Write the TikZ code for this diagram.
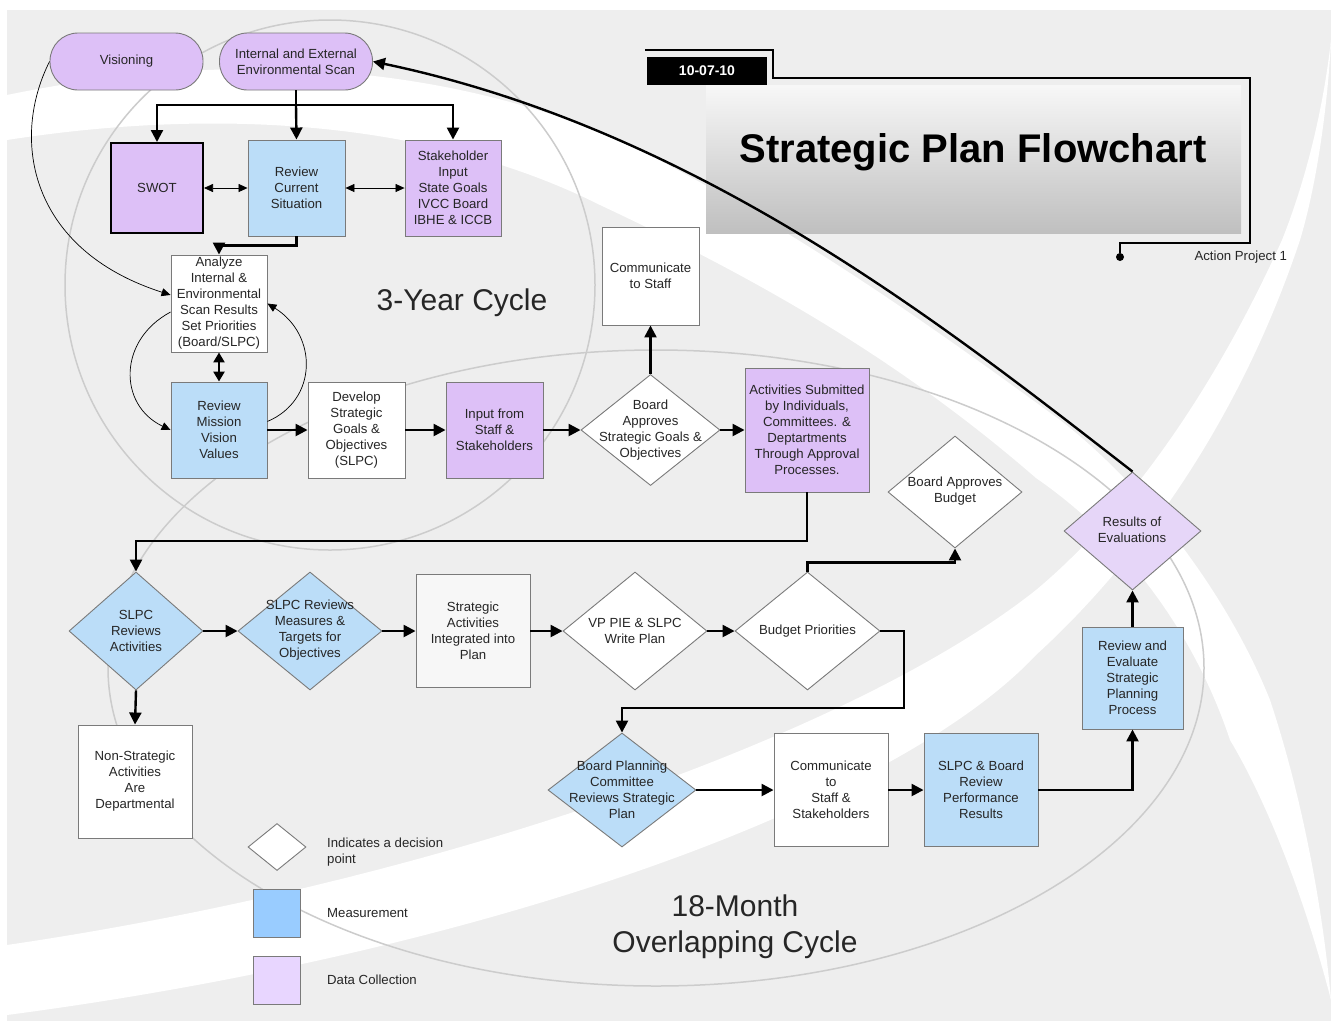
\documentclass[tikz,border=0pt]{standalone}
\usepackage{fontspec}
\setmainfont{Liberation Sans}
\usetikzlibrary{shapes.geometric,arrows.meta}
\definecolor{bg}{HTML}{EEEEEE}
\definecolor{purp}{HTML}{DDC0F7}
\definecolor{purpL}{HTML}{E6D6F8}
\definecolor{blu}{HTML}{BBDDF8}
\definecolor{bluS}{HTML}{99CCFF}
\definecolor{legp}{HTML}{E8D6FF}
\definecolor{edge}{HTML}{7A7A7A}
\definecolor{ink}{HTML}{262626}
\definecolor{arcg}{HTML}{CCCCCC}
\newcommand{\myfnt}{\fontsize{13.2}{16}\selectfont}
\begin{document}
\begin{tikzpicture}[x=1pt,y=-1pt,
 every node/.style={text=ink},
 box/.style={rectangle, draw=edge, line width=0.9pt, inner sep=0pt, align=center, font=\myfnt},
 dia/.style={diamond, draw=edge, line width=0.9pt, inner sep=0pt},
 lbl/.style={align=center, font=\myfnt, inner sep=0pt},
 pill/.style={rectangle, rounded corners=28pt, draw=edge, line width=0.9pt, fill=purp, minimum width=153pt, minimum height=57pt, align=center, font=\myfnt, inner sep=0pt},
 flow/.style={draw=black, line width=2.4pt, -{Triangle[length=12pt,width=12pt]}},
 flowtwo/.style={draw=black, line width=2.4pt, {Triangle[length=10pt,width=11pt]}-{Triangle[length=10pt,width=11pt]}},
 thinar/.style={draw=black, line width=0.7pt, -{Triangle[length=9pt,width=8pt]}},
 thintwo/.style={draw=black, line width=0.7pt, {Triangle[length=9pt,width=8pt]}-{Triangle[length=9pt,width=8pt]}},
]
\useasboundingbox (0,0) rectangle (1336,1026);
% ---------- background ----------
\fill[white] (0,0) rectangle (1336,1026);
\fill[bg] (7,10) rectangle (1331,1021);
% band from top left, along the long return arrow, to bottom right
\fill[white] (7,95) .. controls (200,55) and (420,55) .. (620,140)
  .. controls (800,230) and (950,340) .. (1060,420)
  .. controls (1150,490) and (1230,600) .. (1270,700)
  .. controls (1300,790) and (1322,900) .. (1331,1000)
  .. controls (1300,880) and (1260,790) .. (1230,740)
  .. controls (1200,650) and (1140,550) .. (1036,478)
  .. controls (900,360) and (760,280) .. (600,205)
  .. controls (420,115) and (200,110) .. (7,140) -- cycle;
% band from bottom left to upper right
\fill[white] (7,1015) .. controls (500,950) and (900,800) .. (1036,655)
  .. controls (1140,560) and (1240,420) .. (1300,240)
  .. controls (1318,180) and (1328,100) .. (1331,40)
  .. controls (1322,120) and (1302,190) .. (1282,240)
  .. controls (1210,400) and (1120,520) .. (1036,590)
  .. controls (860,730) and (450,880) .. (7,945) -- cycle;
% cycle outlines
\draw[arcg, line width=1.5pt] (330,285) circle [radius=265pt];
\draw[arcg, line width=1.5pt] (656,668) ellipse [x radius=548pt, y radius=318pt];

% ---------- title area ----------
\node[minimum width=535pt, minimum height=148pt, inner sep=0pt, top color=black!3, bottom color=black!25] (tbox) at (973.5,159) {};
\node[anchor=base, font=\fontsize{40}{48}\selectfont\bfseries, text=black] (title) at (973,162) {Strategic Plan Flowchart};
\node[fill=black, text=white, minimum width=120pt, minimum height=28pt, inner sep=0pt, font=\fontsize{14}{16}\selectfont\bfseries] (date) at (707,71) {10-07-10};
\node[circle, fill=black, inner sep=0pt, minimum size=8pt] (dot) at (1120,257) {};
\draw[line width=1.5pt] (645,50) -- (773,50) -- (773,78) -- (1250,78) -- (1250,243) -- (1120,243) -- (dot.north);
\node[anchor=west, font=\myfnt] (ap) at (1191,257) {Action Project 1};

% ---------- nodes ----------
\node[pill] (vis) at (126.5,61.5) {Visioning};
\node[pill] (scan) at (296,61.5) {Internal and External\\Environmental Scan};
\node[box, fill=purp, draw=black, line width=2pt, minimum width=92pt, minimum height=90pt] (swot) at (157,188) {SWOT};
\node[box, fill=blu, minimum width=97pt, minimum height=96pt] (rcs) at (296.5,188) {Review\\Current\\Situation};
\node[box, fill=purp, minimum width=96pt, minimum height=96pt] (stk) at (453,188) {Stakeholder\\Input\\State Goals\\IVCC Board\\IBHE \& ICCB};
\node[box, fill=white, minimum width=96pt, minimum height=97pt] (ana) at (219,303.5) {Analyze\\Internal \&\\Environmental\\Scan Results\\Set Priorities\\(Board/SLPC)};
\node[box, fill=blu, minimum width=96pt, minimum height=96pt] (rmv) at (219,430) {Review\\Mission\\Vision\\Values};
\node[box, fill=white, minimum width=97pt, minimum height=96pt] (dev) at (356.5,430) {Develop\\Strategic\\Goals \&\\Objectives\\(SLPC)};
\node[box, fill=purp, minimum width=97pt, minimum height=96pt] (inp) at (494.5,430) {Input from\\Staff \&\\Stakeholders};
\node[dia, fill=white, minimum width=139pt, minimum height=111pt] (bag) at (650.5,430) {};
\node[lbl] (bag-t) at (bag) {Board\\Approves\\Strategic Goals \&\\Objectives};
\node[box, fill=white, minimum width=97pt, minimum height=98pt] (cts) at (650.5,276) {Communicate\\to Staff};
\node[box, fill=purp, minimum width=124pt, minimum height=124pt] (act) at (807,430) {Activities Submitted\\by Individuals,\\Committees. \&\\Deptartments\\Through Approval\\Processes.};
\node[dia, fill=white, minimum width=134pt, minimum height=112pt] (bab) at (955,492) {};
\node[lbl] (bab-t) at (955,491) {Board Approves\\Budget};
\node[dia, fill=purpL, minimum width=137pt, minimum height=118pt] (res) at (1132.5,531) {};
\node[lbl] (res-t) at (1132,530) {Results of\\Evaluations};
\node[box, fill=blu, minimum width=101pt, minimum height=102pt] (rev) at (1132.5,678) {Review and\\Evaluate\\Strategic\\Planning\\Process};
\node[dia, fill=blu, minimum width=134pt, minimum height=118pt] (sra) at (136,631) {};
\node[lbl] (sra-t) at (sra) {SLPC\\Reviews\\Activities};
\node[dia, fill=blu, minimum width=144pt, minimum height=118pt] (srm) at (310,631) {};
\node[lbl] (srm-t) at (310,630) {SLPC Reviews\\Measures \&\\Targets for\\Objectives};
\node[box, fill=white!97!black, minimum width=114pt, minimum height=113pt] (sai) at (473,631) {Strategic\\Activities\\Integrated into\\Plan};
\node[dia, fill=white, minimum width=144pt, minimum height=118pt] (vp) at (635,631) {};
\node[lbl] (vp-t) at (vp) {VP PIE \& SLPC\\Write Plan};
\node[dia, fill=white, minimum width=145pt, minimum height=118pt] (bp) at (807.5,631) {};
\node[lbl] (bp-t) at (bp) {Budget Priorities};
\node[box, fill=white, minimum width=114pt, minimum height=113pt] (nsa) at (135,781.5) {Non-Strategic\\Activities\\Are\\Departmental};
\node[dia, fill=blu, minimum width=148pt, minimum height=114pt] (bpc) at (622,790) {};
\node[lbl] (bpc-t) at (bpc) {Board Planning\\Committee\\Reviews Strategic\\Plan};
\node[box, fill=white, minimum width=114pt, minimum height=113pt] (csh) at (831,790) {Communicate\\to\\Staff \&\\Stakeholders};
\node[box, fill=blu, minimum width=114pt, minimum height=113pt] (sbr) at (981,790) {SLPC \& Board\\Review\\Performance\\Results};

% ---------- legend ----------
\node[dia, fill=white, minimum width=58pt, minimum height=47pt] (lg1) at (277,847) {};
\node[anchor=west, align=left, font=\myfnt, inner sep=0pt] (lg1-t) at (327,852) {Indicates a decision\\point};
\node[rectangle, draw=edge, line width=0.9pt, fill=bluS, minimum width=47pt, minimum height=48pt] (lg2) at (276.5,913) {};
\node[anchor=west, font=\myfnt, inner sep=0pt] (lg2-t) at (327,913) {Measurement};
\node[rectangle, draw=edge, line width=0.9pt, fill=legp, minimum width=47pt, minimum height=48pt] (lg3) at (276.5,980.5) {};
\node[anchor=west, font=\myfnt, inner sep=0pt] (lg3-t) at (327,980) {Data Collection};

% ---------- cycle labels ----------
\node[font=\fontsize{30}{36}\selectfont, text=black!85] (c3) at (462,303) {3-Year Cycle};
\node[font=\fontsize{30}{36}\selectfont, text=black!85, align=center] (c18) at (735,927) {18-Month\\Overlapping Cycle};

% ---------- connectors ----------
\coordinate (sp) at (296,105);
\draw[line width=2.4pt] (scan.south) -- (sp);
\draw[flow] (sp) -| (swot.north);
\draw[flow] (sp) -- (rcs.north);
\draw[flow] (sp) -| (stk.north);
\draw[thintwo] (swot.east) -- (rcs.west);
\draw[thintwo] (rcs.east) -- (stk.west);
\draw[flow] (rcs.south) -- ++(0,9) -| (ana.north);
\draw[flowtwo] (ana.south) -- (rmv.north);
\draw[thinar] (vis.west) .. controls (10,140) and (30,250) .. (ana.170);
\draw[thinar] (ana.190) .. controls (118,340) and (118,405) .. (rmv.west);
\draw[thinar] (rmv.10) .. controls (318,400) and (318,335) .. (ana.east);
\draw[flow] (rmv.east) -- (dev.west);
\draw[flow] (dev.east) -- (inp.west);
\draw[flow] (inp.east) -- (bag.west);
\draw[flow] (bag.east) -- (act.west);
\draw[flow] (bag.north) -- (cts.south);
\coordinate (e1) at (807,541);
\draw[flow] (act.south) -- (e1) -| (sra.north);
\draw[flow] (sra.east) -- (srm.west);
\draw[flow] (srm.east) -- (sai.west);
\draw[flow] (sai.east) -- (vp.west);
\draw[flow] (vp.east) -- (bp.west);
\draw[flow] (sra.south) -- (nsa.north);
\draw[flow] (bp.north) -- ++(0,-9) -| (bab.south);
\coordinate (e2) at (904,708);
\draw[flow] (bp.east) -| (e2) -| (bpc.north);
\draw[flow] (bpc.east) -- (csh.west);
\draw[flow] (csh.east) -- (sbr.west);
\draw[flow] (sbr.east) -| (rev.south);
\draw[flow] (rev.north) -- (res.south);
\draw[flow] (res.north) .. controls (950,330) and (700,130) .. (scan.east);
\end{tikzpicture}
\end{document}
